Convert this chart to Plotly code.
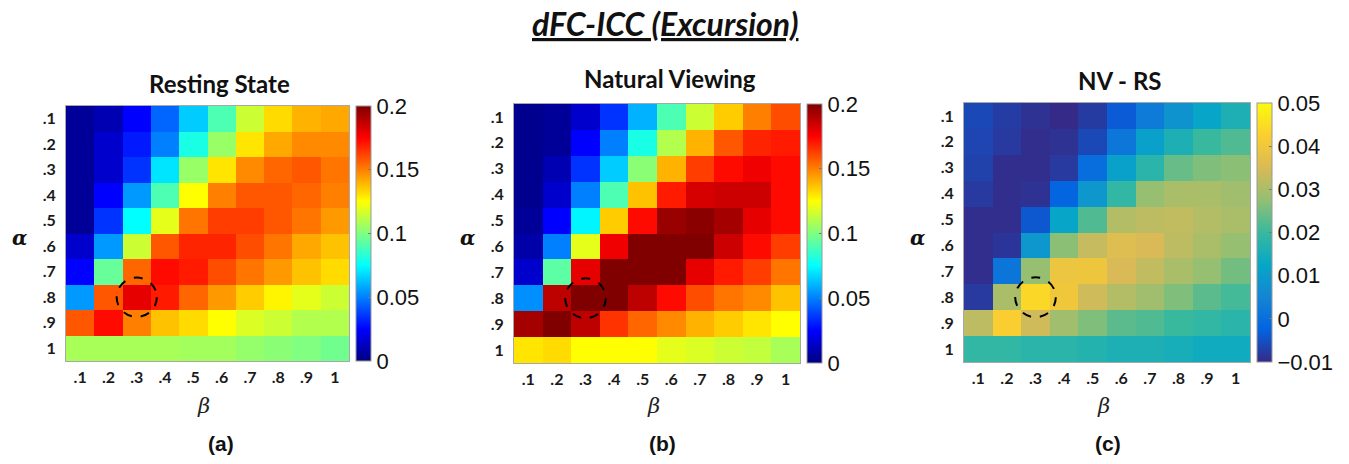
import plotly.graph_objects as go

W, H = 1349, 464

# grid labels (alpha rows top->bottom, beta columns left->right)
alpha_labels = [".1", ".2", ".3", ".4", ".5", ".6", ".7", ".8", ".9", "1"]
beta_labels = [".1", ".2", ".3", ".4", ".5", ".6", ".7", ".8", ".9", "1"]

# dFC-ICC, Resting State
rs_icc = [
    [0.005, 0.010, 0.025, 0.045, 0.065, 0.090, 0.115, 0.132, 0.140, 0.142],
    [0.005, 0.015, 0.030, 0.050, 0.080, 0.105, 0.130, 0.142, 0.148, 0.148],
    [0.005, 0.015, 0.035, 0.070, 0.105, 0.130, 0.148, 0.155, 0.158, 0.152],
    [0.005, 0.025, 0.055, 0.090, 0.125, 0.150, 0.158, 0.158, 0.155, 0.150],
    [0.005, 0.035, 0.075, 0.120, 0.152, 0.163, 0.163, 0.158, 0.152, 0.145],
    [0.015, 0.055, 0.115, 0.158, 0.168, 0.168, 0.160, 0.152, 0.142, 0.137],
    [0.025, 0.095, 0.155, 0.173, 0.170, 0.160, 0.152, 0.145, 0.137, 0.132],
    [0.055, 0.158, 0.180, 0.170, 0.155, 0.145, 0.135, 0.127, 0.120, 0.115],
    [0.158, 0.173, 0.150, 0.137, 0.132, 0.125, 0.118, 0.115, 0.110, 0.110],
    [0.108, 0.108, 0.108, 0.108, 0.107, 0.107, 0.104, 0.102, 0.100, 0.097],
]

# dFC-ICC, Natural Viewing
nv_icc = [
    [0.003, 0.005, 0.015, 0.035, 0.060, 0.090, 0.115, 0.135, 0.150, 0.160],
    [0.003, 0.005, 0.025, 0.050, 0.080, 0.110, 0.140, 0.158, 0.168, 0.170],
    [0.003, 0.010, 0.035, 0.065, 0.102, 0.140, 0.163, 0.173, 0.178, 0.173],
    [0.003, 0.015, 0.050, 0.090, 0.137, 0.170, 0.183, 0.185, 0.185, 0.173],
    [0.005, 0.025, 0.073, 0.135, 0.173, 0.195, 0.198, 0.193, 0.180, 0.173],
    [0.008, 0.050, 0.120, 0.178, 0.200, 0.200, 0.200, 0.185, 0.173, 0.163],
    [0.015, 0.093, 0.180, 0.200, 0.200, 0.200, 0.180, 0.170, 0.163, 0.152],
    [0.053, 0.188, 0.200, 0.200, 0.188, 0.173, 0.160, 0.152, 0.148, 0.137],
    [0.193, 0.200, 0.188, 0.165, 0.155, 0.148, 0.140, 0.135, 0.130, 0.125],
    [0.130, 0.132, 0.125, 0.125, 0.125, 0.120, 0.118, 0.115, 0.113, 0.108],
]

# NV - RS difference
diff_icc = [
    [-0.0060, -0.0076, -0.0090, -0.0100, -0.0078, -0.0035, 0.0027, 0.0080, 0.0120, 0.0160],
    [-0.0065, -0.0080, -0.0095, -0.0090, -0.0060, 0.0020, 0.0110, 0.0160, 0.0200, 0.0220],
    [-0.0070, -0.0095, -0.0095, -0.0080, 0.0000, 0.0110, 0.0180, 0.0240, 0.0260, 0.0270],
    [-0.0080, -0.0095, -0.0090, -0.0020, 0.0090, 0.0190, 0.0280, 0.0300, 0.0300, 0.0290],
    [-0.0095, -0.0095, -0.0040, 0.0120, 0.0220, 0.0310, 0.0320, 0.0325, 0.0310, 0.0300],
    [-0.0095, -0.0085, 0.0090, 0.0270, 0.0330, 0.0360, 0.0350, 0.0320, 0.0300, 0.0280],
    [-0.0095, 0.0015, 0.0280, 0.0390, 0.0395, 0.0350, 0.0325, 0.0300, 0.0280, 0.0250],
    [-0.0080, 0.0300, 0.0440, 0.0400, 0.0340, 0.0310, 0.0290, 0.0260, 0.0230, 0.0210],
    [0.0320, 0.0420, 0.0340, 0.0290, 0.0260, 0.0230, 0.0220, 0.0200, 0.0190, 0.0180],
    [0.0190, 0.0190, 0.0180, 0.0180, 0.0170, 0.0160, 0.0160, 0.0150, 0.0140, 0.0140],
]

# highlighted cell (beta=.3, alpha=.8)
best_beta, best_alpha = 3, 8

jet = [
    [0.0, "rgb(0,0,128)"], [0.125, "rgb(0,0,255)"], [0.375, "rgb(0,255,255)"],
    [0.625, "rgb(255,255,0)"], [0.875, "rgb(255,0,0)"], [1.0, "rgb(128,0,0)"],
]
parula = [
    [0.0, "#352a87"], [0.125, "#0363e1"], [0.25, "#1485d4"], [0.375, "#06a7c6"],
    [0.5, "#38b99e"], [0.625, "#92bf73"], [0.75, "#d9ba56"], [0.875, "#fcce2e"],
    [1.0, "#f9fb0e"],
]

idx = list(range(1, 11))

# pixel boxes: heatmap (left, right, top, bottom), colorbar left
panels = [
    dict(z=rs_icc, cs=jet, zmin=0, zmax=0.2, box=(66, 349, 106, 361), cbx=356,
         tv=[0, 0.05, 0.1, 0.15, 0.2], tt=["0", "0.05", "0.1", "0.15", "0.2"],
         title="Resting State", tx=219, ty=84, letter="(a)", lx=221),
    dict(z=nv_icc, cs=jet, zmin=0, zmax=0.2, box=(514, 800, 104, 363), cbx=807,
         tv=[0, 0.05, 0.1, 0.15, 0.2], tt=["0", "0.05", "0.1", "0.15", "0.2"],
         title="Natural Viewing", tx=670, ty=79, letter="(b)", lx=662),
    dict(z=diff_icc, cs=parula, zmin=-0.01, zmax=0.05, box=(964, 1250, 103, 362), cbx=1257,
         tv=[-0.01, 0, 0.01, 0.02, 0.03, 0.04, 0.05],
         tt=["\u22120.01", "0", "0.01", "0.02", "0.03", "0.04", "0.05"],
         title="NV - RS", tx=1120, ty=80, letter="(c)", lx=1108),
]


def px(x):
    return x / W


def py(y):
    return 1 - y / H


fig = go.Figure()
annotations = []
shapes = []
tick_font = dict(family="Lato, Open Sans, sans-serif", size=16, color="#1a1a1a", weight="bold")

for i, p in enumerate(panels, start=1):
    l, r, t, b = p["box"]
    sfx = "" if i == 1 else str(i)
    fig.add_trace(go.Heatmap(
        z=p["z"], x=idx, y=idx, colorscale=p["cs"], zmin=p["zmin"], zmax=p["zmax"],
        xaxis="x" + sfx, yaxis="y" + sfx, xgap=0, ygap=0,
        colorbar=dict(
            x=px(p["cbx"]), xanchor="left", xpad=0, ypad=0,
            y=py((t + b) / 2), yanchor="middle", lenmode="pixels", len=b - t,
            thickness=15, outlinewidth=1, outlinecolor="#9a9a9a",
            tickvals=p["tv"], ticktext=p["tt"], ticks="inside", ticklen=3,
            tickcolor="#777", tickfont=dict(family="Liberation Sans, Arial", size=22, color="#111"),
        ),
    ))
    axis_common = dict(showgrid=False, zeroline=False, showline=True, mirror=True,
                       linecolor="#a8a8a8", linewidth=1, tickvals=idx,
                       ticks="", tickfont=tick_font)
    fig.layout["xaxis" + sfx] = dict(axis_common, domain=[px(l), px(r)], anchor="y" + sfx,
                                     ticktext=beta_labels, range=[0.5, 10.5],
                                     ticklabelstandoff=2)
    fig.layout["yaxis" + sfx] = dict(axis_common, domain=[py(b), py(t)], anchor="x" + sfx,
                                     ticktext=alpha_labels, range=[10.5, 0.5],
                                     ticklabelstandoff=6)
    # dashed ring around the best cell
    shapes.append(dict(type="circle", xref="x" + sfx, yref="y" + sfx,
                       x0=best_beta - 0.71, x1=best_beta + 0.71,
                       y0=best_alpha - 0.77, y1=best_alpha + 0.77,
                       line=dict(color="black", width=2, dash="dash")))
    annotations.append(dict(text="<b>" + p["title"] + "</b>", x=px(p["tx"]), y=py(p["ty"]),
                            xref="paper", yref="paper", showarrow=False,
                            xanchor="center", yanchor="middle",
                            font=dict(family="Lato, Open Sans, sans-serif", size=24, color="#111")))
    annotations.append(dict(text="<b><i>\u03b1</i></b>", x=px(l - 47), y=py(238),
                            xref="paper", yref="paper", showarrow=False,
                            xanchor="center", yanchor="middle",
                            font=dict(family="DejaVu Serif, serif", size=20, color="#111")))
    annotations.append(dict(text="<i>\u03b2</i>", x=px((l + r) / 2 - 4), y=py(406),
                            xref="paper", yref="paper", showarrow=False,
                            xanchor="center", yanchor="middle",
                            font=dict(family="DejaVu Serif, serif", size=21, color="#222")))
    annotations.append(dict(text="<b>" + p["letter"] + "</b>", x=px(p["lx"]), y=py(443),
                            xref="paper", yref="paper", showarrow=False,
                            xanchor="center", yanchor="middle",
                            font=dict(family="Liberation Sans, Arial", size=21, color="#111")))

annotations.append(dict(text="<b><i><u>dFC-ICC (Excursion)</u></i></b>", x=px(665), y=py(24),
                        xref="paper", yref="paper", showarrow=False,
                        xanchor="center", yanchor="middle",
                        font=dict(family="Lato, Open Sans, sans-serif", size=32, color="#111")))

fig.update_layout(
    width=W, height=H, margin=dict(l=0, r=0, t=0, b=0),
    paper_bgcolor="white", plot_bgcolor="white",
    annotations=annotations, shapes=shapes, showlegend=False,
)

fig.write_html("out.html")
